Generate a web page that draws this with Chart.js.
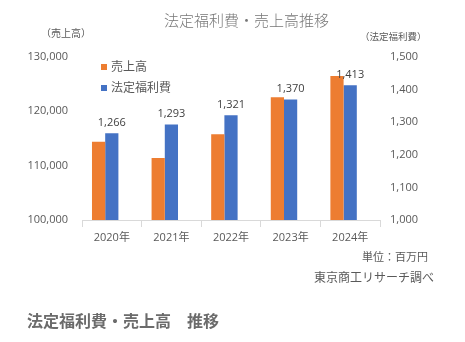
<!DOCTYPE html>
<html lang="ja">
<head>
    <meta charset="UTF-8">
    <title>法定福利費・売上高推移</title>
    <script src="https://cdn.jsdelivr.net/npm/chart.js"></script>
    <style>
        body {
            margin: 0;
            background: #fff;
            font-family: 'Open Sans', 'Noto Sans CJK JP', sans-serif;
            color: #595959;
        }

        #wrap {
            position: relative;
            width: 465px;
            height: 342px;
        }

        .txt {
            position: absolute;
            white-space: nowrap;
            line-height: 1;
        }

        .legend span {
            display: inline-block;
            width: 6px;
            height: 6px;
            margin-right: 4px;
            vertical-align: 1px;
        }
    </style>
</head>
<body>
<div id="wrap">
    <canvas id="chart"></canvas>
    <div class="txt" style="left:0;width:493px;text-align:center;top:13px;font-size:15px;font-weight:300;color:#777;">法定福利費・売上高推移</div>
    <div class="txt" style="left:41px;top:28px;font-size:10px;">（売上高）</div>
    <div class="txt" style="left:360px;top:32px;font-size:9.5px;">（法定福利費）</div>
    <div class="txt legend" style="left:101px;top:61px;font-size:12px;"><span style="background:#ED7D31"></span>売上高</div>
    <div class="txt legend" style="left:101px;top:82px;font-size:12px;"><span style="background:#4472C4"></span>法定福利費</div>
    <div class="txt" style="right:37px;top:251px;font-size:11px;">単位：百万円</div>
    <div class="txt" style="right:31px;top:272px;font-size:12px;">東京商工リサーチ調べ</div>
    <div class="txt" style="left:27px;top:313px;font-size:16px;font-weight:bold;color:#6b6b6b;">法定福利費・売上高　推移</div>
</div>

<script>
// 年
const years = ['2020年', '2021年', '2022年', '2023年', '2024年'];
// 売上高（左軸）
const sales = [114400, 111400, 115800, 122600, 126500];
// 法定福利費（右軸）
const welfare = [1266, 1293, 1321, 1370, 1413];
// 空き枠（棒の並びを合わせるためのダミー）
const spacer = [null, null, null, null, null];

const fontFamily = "'Open Sans', 'Noto Sans CJK JP', sans-serif";

// 法定福利費の棒の上に数値を描く
const valueLabels = {
    id: 'valueLabels',
    afterDatasetsDraw(chart) {
        const ctx = chart.ctx;
        const meta = chart.getDatasetMeta(1);
        ctx.save();
        ctx.font = '11px ' + fontFamily;
        ctx.fillStyle = '#404040';
        ctx.textAlign = 'center';
        ctx.textBaseline = 'bottom';
        meta.data.forEach(function(bar, i) {
            ctx.fillText(welfare[i].toLocaleString('en-US'), bar.x, bar.y - 5);
        });
        ctx.restore();
    }
};

new Chart(document.getElementById('chart'), {
    type: 'bar',
    data: {
        labels: years,
        datasets: [
            { label: '売上高', data: sales, backgroundColor: '#ED7D31', yAxisID: 'y' },
            { label: '法定福利費', data: welfare, backgroundColor: '#4472C4', yAxisID: 'y2' },
            { label: '', data: spacer, backgroundColor: 'rgba(0,0,0,0)', yAxisID: 'y' }
        ]
    },
    options: {
        responsive: true,
        maintainAspectRatio: false,
        animation: false,
        layout: { padding: { top: 57, left: 0, right: 0, bottom: 0 } },
        datasets: {
            bar: { categoryPercentage: 0.665, barPercentage: 1 }
        },
        plugins: {
            legend: { display: false },
            tooltip: { enabled: false }
        },
        scales: {
            x: {
                grid: {
                    offset: true,
                    drawOnChartArea: false,
                    tickLength: 7,
                    color: '#d9d9d9'
                },
                border: { color: '#d9d9d9' },
                ticks: { color: '#595959', font: { size: 11, family: fontFamily }, padding: 4 },
                afterFit(scale) { scale.height = 122; }
            },
            y: {
                position: 'left',
                min: 100000,
                max: 130000,
                grid: { display: false, drawTicks: false },
                border: { display: false },
                ticks: {
                    stepSize: 10000,
                    padding: 14,
                    color: '#595959',
                    font: { size: 11, family: fontFamily },
                    callback: v => v.toLocaleString('en-US')
                },
                afterFit(scale) { scale.width = 82; }
            },
            y2: {
                position: 'right',
                min: 1000,
                max: 1500,
                grid: { display: false, drawTicks: false },
                border: { display: false },
                ticks: {
                    stepSize: 100,
                    padding: 10,
                    color: '#595959',
                    font: { size: 11, family: fontFamily },
                    callback: v => v.toLocaleString('en-US')
                },
                afterFit(scale) { scale.width = 85; }
            }
        }
    },
    plugins: [valueLabels]
});
</script>
</body>
</html>
